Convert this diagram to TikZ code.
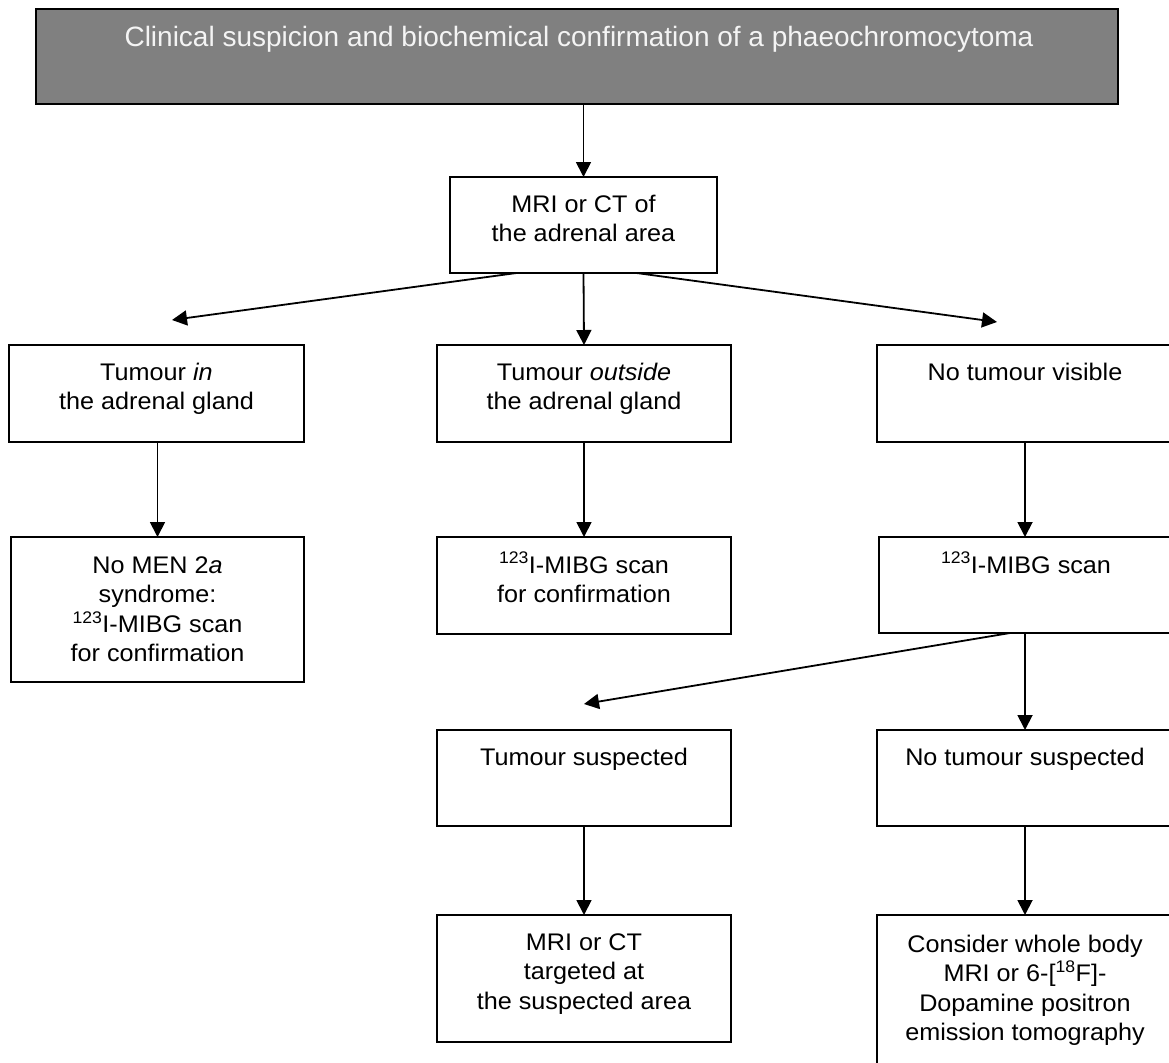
\documentclass[tikz,border=0pt]{standalone}
\usepackage{fontspec}
\setmainfont{Liberation Sans}
\newfontfamily\bodyfam{Liberation Sans}[FakeStretch=1.05]
\newfontfamily\titlefam{Liberation Sans}
\usetikzlibrary{arrows.meta}
\definecolor{titlegray}{HTML}{808080}
\definecolor{titletext}{HTML}{F4F4F4}
\newcommand{\tb}[1]{\parbox[t]{290pt}{\centering #1}}
\tikzset{
  flowbox/.style={draw=black, line width=1.8pt, fill=white, anchor=north west, inner sep=0pt, outer sep=0pt},
  titlebox/.style={flowbox, fill=titlegray},
  txt/.style={anchor=base, inner sep=0pt, font=\bodyfam\fontsize{24pt}{29.6pt}\selectfont},
  ttl/.style={anchor=base, inner sep=0pt, text=titletext, font=\titlefam\fontsize{28pt}{32pt}\selectfont},
  arr/.style={line width=1.8pt, -{Triangle[length=15pt,width=15pt]}},
}
\begin{document}
\begin{tikzpicture}[x=1pt,y=-1pt]
\useasboundingbox (0,0) rectangle (1169,1062);
% boxes
\node[titlebox, minimum width=1082pt, minimum height=95pt] (title) at (36,9) {};
\node[flowbox, minimum width=267pt, minimum height=96pt] (mri) at (450,177) {};
\node[flowbox, minimum width=295pt, minimum height=97pt] (tin) at (9,345) {};
\node[flowbox, minimum width=294pt, minimum height=97pt] (tout) at (437,345) {};
\node[flowbox, minimum width=296pt, minimum height=97pt] (nov) at (877,345) {};
\node[flowbox, minimum width=293pt, minimum height=145pt] (men) at (11,537) {};
\node[flowbox, minimum width=294pt, minimum height=97pt] (mibga) at (437,537) {};
\node[flowbox, minimum width=294pt, minimum height=96pt] (mibgb) at (879,537) {};
\node[flowbox, minimum width=294pt, minimum height=96pt] (ts) at (437,730) {};
\node[flowbox, minimum width=296pt, minimum height=96pt] (nts) at (877,730) {};
\node[flowbox, minimum width=294pt, minimum height=127pt] (mrit) at (437,915) {};
\node[flowbox, minimum width=296pt, minimum height=170pt] (cons) at (877,915) {};
% texts
\node[ttl] (title-t) at ([xshift=2pt,yshift=-38pt]title.north) {Clinical suspicion and biochemical confirmation of a phaeochromocytoma};
\node[txt] (mri-t) at ([yshift=-35pt]mri.north) {\tb{MRI or CT of\\the adrenal area}};
\node[txt] (tin-t) at ([yshift=-35pt]tin.north) {\tb{Tumour \textit{in}\\the adrenal gland}};
\node[txt] (tout-t) at ([yshift=-35pt]tout.north) {\tb{Tumour \textit{outside}\\the adrenal gland}};
\node[txt] (nov-t) at ([yshift=-35pt]nov.north) {\tb{No tumour visible}};
\node[txt] (men-t) at ([yshift=-36pt]men.north) {\tb{No MEN 2\textit{a}\\syndrome:\\\textsuperscript{123}I-MIBG scan\\for confirmation}};
\node[txt] (mibga-t) at ([yshift=-36pt]mibga.north) {\tb{\textsuperscript{123}I-MIBG scan\\for confirmation}};
\node[txt] (mibgb-t) at ([yshift=-36pt]mibgb.north) {\tb{\textsuperscript{123}I-MIBG scan}};
\node[txt] (ts-t) at ([yshift=-35pt]ts.north) {\tb{Tumour suspected}};
\node[txt] (nts-t) at ([yshift=-35pt]nts.north) {\tb{No tumour suspected}};
\node[txt] (mrit-t) at ([yshift=-35pt]mrit.north) {\tb{MRI or CT\\targeted at\\the suspected area}};
\node[txt] (cons-t) at ([yshift=-37pt]cons.north) {\tb{Consider whole body\\MRI or 6-[\textsuperscript{18}F]-\\Dopamine positron\\emission tomography}};
% free arrow ends
\coordinate (tipL) at (172,320);
\coordinate (tipR) at (997,322);
\coordinate (tipTS) at (584,704);
% connectors
\draw[arr] (mri.north |- title.south) -- (mri.north);
\draw[arr] ([xshift=-67pt]mri.south) -- (tipL);
\draw[arr] (mri.south) -- (tout.north);
\draw[arr] ([xshift=53pt]mri.south) -- (tipR);
\draw[arr] (tin.south -| men.north) -- (men.north);
\draw[arr] (tout.south) -- (mibga.north);
\draw[arr] (nov.south) -- (nov.south |- mibgb.north);
\draw[arr] ([xshift=-16pt]mibgb.south) -- (tipTS);
\draw[arr] (nov.south |- mibgb.south) -- (nts.north);
\draw[arr] (ts.south) -- (mrit.north);
\draw[arr] (nts.south) -- (cons.north);
\end{tikzpicture}
\end{document}
